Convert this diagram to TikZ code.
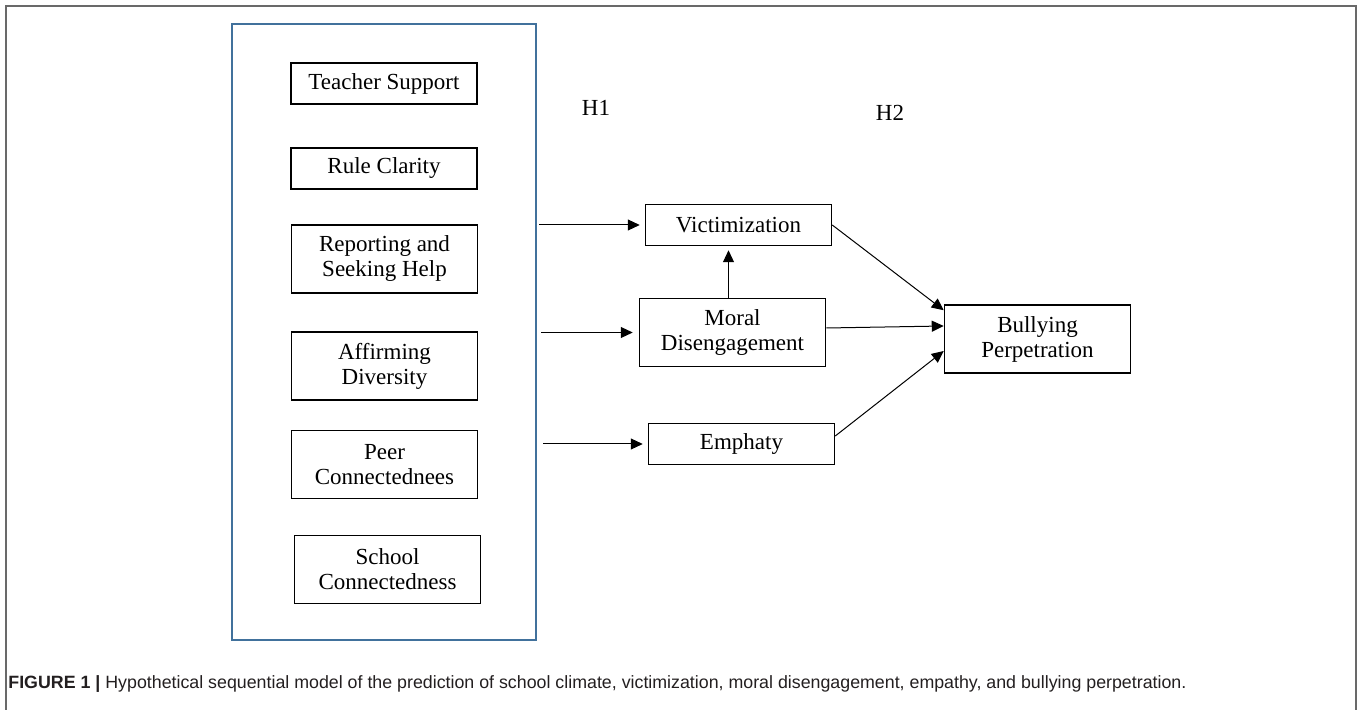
\documentclass[tikz,border=0pt]{standalone}
\usepackage{fontspec}
\setmainfont{Liberation Serif}
\newfontfamily\captionfont{Liberation Sans}
\usetikzlibrary{arrows.meta}
\definecolor{frameblue}{RGB}{65,113,156}
\definecolor{framegray}{RGB}{105,105,105}
\definecolor{captiontext}{RGB}{35,31,32}

\begin{document}
\begin{tikzpicture}[x=0.5pt,y=-0.5pt,
		Factor/.style={draw, line width=0.75pt, align=center, inner sep=0pt, minimum width=93pt, minimum height=20.5pt, font=\fontsize{11.5}{12.5}\selectfont},
		FactorTall/.style={Factor, minimum height=34pt},
		Path/.style={-{Triangle[length=6pt,width=5.5pt]}, line width=0.5pt}]
		\useasboundingbox (0,0) rectangle (1358,710);
		\draw[framegray, line width=1pt] (6,720) -- (6,6) -- (1356,6) -- (1356,720);
		% school climate block
		\node[draw=frameblue, line width=1pt, minimum width=152pt, minimum height=308pt] (climate) at (384,332) {};
		\node[Factor] (support) at (384,83.5) {Teacher Support};
		\node[Factor] (rules) at (384,168.5) {Rule Clarity};
		\node[FactorTall] (reporting) at (384.5,259) {Reporting and\\Seeking Help};
		\node[FactorTall] (diversity) at (384.5,366) {Affirming\\Diversity};
		\node[FactorTall] (peer) at (384.5,464.5) {Peer\\Connectednees};
		\node[FactorTall] (school) at (387.5,569.5) {School\\Connectedness};
		% mediators and outcome
		\node[Factor] (vict) at (738.5,225) {Victimization};
		\node[FactorTall] (moral) at (732.5,332.5) {Moral\\Disengagement};
		\node[Factor] (emph) at (741.5,444) {Emphaty};
		\node[FactorTall] (bully) at (1037.5,339) {Bullying\\Perpetration};
		\node[font=\fontsize{11.5}{12.5}\selectfont] (h1) at (596,108) {H1};
		\node[font=\fontsize{11.5}{12.5}\selectfont] (h2) at (890,113) {H2};
		\coordinate (mv) at ([xshift=-2pt]moral.north);
		\draw[Path, shorten <=1pt, shorten >=2.5pt] (climate.east |- vict) -- (vict.west);
		\draw[Path, shorten <=2pt, shorten >=3pt] (climate.east |- moral) -- (moral.west);
		\draw[Path, shorten <=3pt, shorten >=2.5pt] (climate.east |- emph) -- (emph.west);
		\draw[Path, shorten >=2pt] (mv) -- (mv |- vict.south);
		\draw[Path] (vict.east) -- ([yshift=-3pt]bully.north west);
		\draw[Path] ([yshift=2.25pt]moral.east) -- ([yshift=6.5pt]bully.west);
		\draw[Path] ([yshift=4pt]emph.east) -- ([yshift=-6pt]bully.west);
		\node[anchor=west, inner sep=0pt, text=captiontext, font=\captionfont\fontsize{8.9}{11}\selectfont] (caption) at (8,684) {\textbf{FIGURE 1 |} Hypothetical sequential model of the prediction of school climate, victimization, moral disengagement, empathy, and bullying perpetration.};
	\end{tikzpicture}
\end{document}
